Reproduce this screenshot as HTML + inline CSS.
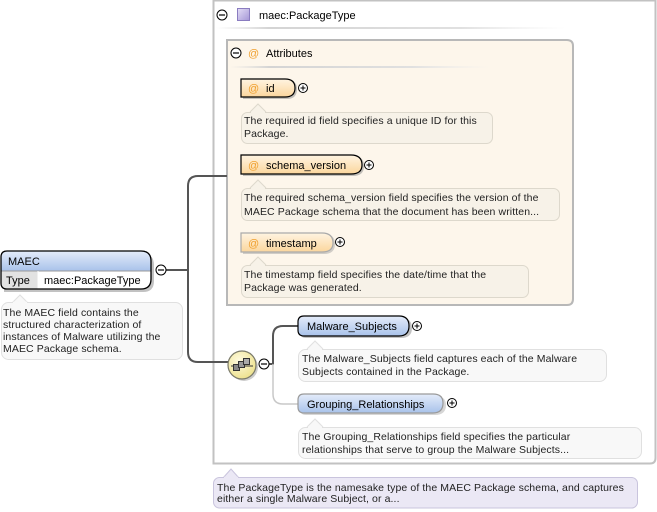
<!DOCTYPE html>
<html><head><meta charset="utf-8"><style>
html,body{margin:0;padding:0;background:#fff;}
svg{display:block;font-family:"Liberation Sans",Arial,sans-serif;}
.d{font-size:10.5px;fill:#222;letter-spacing:0.1px;}
.l{font-size:11px;fill:#000;}
</style></head><body>
<svg width="657" height="512" viewBox="0 0 657 512" xmlns="http://www.w3.org/2000/svg">
<defs>
<linearGradient id="blue" x1="0" y1="0" x2="0" y2="1"><stop offset="0" stop-color="#e4ecfa"/><stop offset="1" stop-color="#a8c2ea"/></linearGradient>
<linearGradient id="orange" x1="0" y1="0" x2="0" y2="1"><stop offset="0" stop-color="#fff4e2"/><stop offset="1" stop-color="#fbd69c"/></linearGradient>
<linearGradient id="purp" x1="0" y1="0" x2="1" y2="1"><stop offset="0" stop-color="#e4def6"/><stop offset="1" stop-color="#a496d6"/></linearGradient>
<radialGradient id="yel" cx="0.4" cy="0.35" r="0.7"><stop offset="0" stop-color="#fffbe0"/><stop offset="1" stop-color="#ece08a"/></radialGradient>
<linearGradient id="sep" x1="0" y1="0" x2="1" y2="0"><stop offset="0" stop-color="#ddd" stop-opacity="0"/><stop offset="0.15" stop-color="#d4d4d4"/><stop offset="0.7" stop-color="#e0e0e0"/><stop offset="1" stop-color="#eee" stop-opacity="0"/></linearGradient>
</defs>

<!-- outer PackageType box -->
<path d="M213.5 0.5 H655.5 V458 Q655.5 463.5 650 463.5 H213.5 Z" fill="#fff" stroke="#c2c2c2" stroke-width="2"/>
<circle cx="222" cy="15" r="5" fill="#fff" stroke="#000" stroke-width="1"/>
<line x1="219" y1="15" x2="225" y2="15" stroke="#000" stroke-width="1.2"/>
<rect x="237.5" y="8.5" width="12" height="12" fill="url(#purp)" stroke="#8a7cc0"/>
<text x="259" y="19" class="l">maec:PackageType</text>
<rect x="216" y="27" width="350" height="2" fill="url(#sep)"/>

<!-- Attributes box -->
<path d="M227 40 H567 Q573 40 573 46 V299 Q573 305 567 305 H227 Z" fill="#fdf6eb" stroke="#b8b8b8" stroke-width="2"/>
<circle cx="236" cy="53" r="5" fill="#fff" stroke="#000" stroke-width="1"/>
<line x1="233" y1="53" x2="239" y2="53" stroke="#000" stroke-width="1.2"/>
<text x="248" y="57" class="l" style="fill:#f0a030">@</text>
<text x="266" y="57" class="l">Attributes</text>
<rect x="230" y="66" width="260" height="2" fill="url(#sep)"/>

<!-- id -->
<path d="M243 80 H287 Q297 80 297 89 Q297 99 287 99 H243 Z" fill="#888" opacity="0.5"/>
<path d="M241 79 H285 Q295 79 295 88 Q295 97 285 97 H241 Z" fill="url(#orange)" stroke="#000" stroke-width="1.2"/>
<text x="248" y="92" class="l" style="fill:#f0a030">@</text>
<text x="266" y="92" class="l">id</text>
<circle cx="303" cy="88" r="4.5" fill="#fff" stroke="#000"/>
<path d="M300.5 88 H305.5 M303 85.5 V90.5" stroke="#000"/>
<path d="M250 112 L258 104 L266 112" fill="#f7f2e8" stroke="#ddd8cc"/>
<rect x="241.5" y="112.5" width="251" height="31" rx="6" fill="#f7f2e8" stroke="#ddd8cc"/>
<line x1="251" y1="112.5" x2="265" y2="112.5" stroke="#f7f2e8" stroke-width="1.5"/>
<text x="244" y="124" class="d">The required id field specifies a unique ID for this</text>
<text x="244" y="137" class="d">Package.</text>

<!-- schema_version -->
<path d="M243 156 H353 Q364 156 364 166 Q364 176 353 176 H243 Z" fill="#888" opacity="0.5"/>
<path d="M241 155 H351 Q362 155 362 165 Q362 174 351 174 H241 Z" fill="url(#orange)" stroke="#000" stroke-width="1.2"/>
<text x="248" y="169" class="l" style="fill:#f0a030">@</text>
<text x="266" y="169" class="l">schema_version</text>
<circle cx="369" cy="165" r="4.5" fill="#fff" stroke="#000"/>
<path d="M366.5 165 H371.5 M369 162.5 V167.5" stroke="#000"/>
<path d="M250 188 L258 180 L266 188" fill="#f7f2e8" stroke="#ddd8cc"/>
<rect x="241.5" y="188.5" width="318" height="32" rx="6" fill="#f7f2e8" stroke="#ddd8cc"/>
<line x1="251" y1="188.5" x2="265" y2="188.5" stroke="#f7f2e8" stroke-width="1.5"/>
<text x="244" y="201" class="d">The required schema_version field specifies the version of the</text>
<text x="244" y="215" class="d">MAEC Package schema that the document has been written...</text>

<!-- timestamp -->
<path d="M243 234 H324 Q335 234 335 244 Q335 254 324 254 H243 Z" fill="#999" opacity="0.45"/>
<path d="M241 233 H322 Q333 233 333 243 Q333 252 322 252 H241 Z" fill="url(#orange)" stroke="#aaa" stroke-width="1.2"/>
<text x="248" y="247" class="l" style="fill:#f0a030">@</text>
<text x="266" y="247" class="l">timestamp</text>
<circle cx="340" cy="242" r="4.5" fill="#fff" stroke="#000"/>
<path d="M337.5 242 H342.5 M340 239.5 V244.5" stroke="#000"/>
<path d="M250 265 L258 257 L266 265" fill="#f7f2e8" stroke="#ddd8cc"/>
<rect x="241.5" y="265.5" width="287" height="32" rx="6" fill="#f7f2e8" stroke="#ddd8cc"/>
<line x1="251" y1="265.5" x2="265" y2="265.5" stroke="#f7f2e8" stroke-width="1.5"/>
<text x="244" y="278" class="d">The timestamp field specifies the date/time that the</text>
<text x="244" y="291" class="d">Package was generated.</text>

<!-- connectors -->
<path d="M166 270 H188" stroke="#555" stroke-width="2" fill="none"/>
<path d="M227 176 H198 Q188 176 188 186 V352 Q188 362 198 362 H229" stroke="#555" stroke-width="2" fill="none"/>
<path d="M269 364 H273 V336 Q273 326 283 326 H298" stroke="#555" stroke-width="2" fill="none"/>
<path d="M273 364 V394 Q273 404 283 404 H298" stroke="#c8c8c8" stroke-width="1.5" fill="none"/>

<!-- MAEC box -->
<path d="M4 254 H143 Q154 254 154 265 V281 Q154 292 143 292 H4 Z" fill="#777" opacity="0.45"/>
<path d="M7 251 H141 Q151 251 151 261 V279 Q151 289 141 289 H7 Q1 289 1 283 V257 Q1 251 7 251 Z" fill="#fff"/>
<path d="M7 251 H141 Q151 251 151 261 V271 H1 V257 Q1 251 7 251 Z" fill="url(#blue)"/>
<path d="M1 271 H38 V289 H7 Q1 289 1 283 Z" fill="#e2e2e2"/>
<line x1="1" y1="271" x2="151" y2="271" stroke="#999" stroke-width="1"/>
<line x1="38" y1="271" x2="38" y2="289" stroke="#fff" stroke-width="1"/>
<path d="M7 251 H141 Q151 251 151 261 V279 Q151 289 141 289 H7 Q1 289 1 283 V257 Q1 251 7 251 Z" fill="none" stroke="#000" stroke-width="1.3"/>
<text x="8" y="265" class="l">MAEC</text>
<text x="6" y="284" class="l">Type</text>
<text x="44" y="284" class="l">maec:PackageType</text>
<circle cx="161" cy="270" r="5" fill="#fff" stroke="#000"/>
<line x1="158" y1="270" x2="164" y2="270" stroke="#000" stroke-width="1.2"/>

<!-- MAEC desc -->
<path d="M12 303 L20 295 L28 303" fill="#f8f8f8" stroke="#e0e0e0"/>
<rect x="1.5" y="302.5" width="181" height="57" rx="7" fill="#f8f8f8" stroke="#e0e0e0"/>
<line x1="13" y1="302.5" x2="27" y2="302.5" stroke="#f8f8f8" stroke-width="1.5"/>
<text x="3" y="316" class="d">The MAEC field contains the</text>
<text x="3" y="328" class="d">structured characterization of</text>
<text x="3" y="340" class="d">instances of Malware utilizing the</text>
<text x="3" y="352" class="d">MAEC Package schema.</text>

<!-- sequence compositor -->
<circle cx="244" cy="367" r="14" fill="#999" opacity="0.5"/>
<circle cx="242" cy="365" r="14" fill="url(#yel)" stroke="#7a7a6a" stroke-width="1.2"/>
<line x1="231" y1="366" x2="253" y2="366" stroke="#333" stroke-width="1"/>
<rect x="233.5" y="364.5" width="6" height="6" fill="#888" stroke="#333"/>
<rect x="238.5" y="361.5" width="6" height="6" fill="#999" stroke="#333"/>
<rect x="243.5" y="358.5" width="6" height="6" fill="#aaa" stroke="#333"/>
<circle cx="264" cy="364" r="5" fill="#fff" stroke="#000"/>
<line x1="261" y1="364" x2="267" y2="364" stroke="#000" stroke-width="1.2"/>

<!-- Malware_Subjects -->
<path d="M301 318 H401 Q412 318 412 328 Q412 338 401 338 H306 Q300 338 300 332 Z" fill="#777" opacity="0.45"/>
<path d="M304 316 H399 Q409 316 409 326 Q409 336 399 336 H304 Q298 336 298 330 V322 Q298 316 304 316 Z" fill="url(#blue)" stroke="#000" stroke-width="1.2"/>
<text x="307" y="330" class="l">Malware_Subjects</text>
<circle cx="417" cy="326" r="4.5" fill="#fff" stroke="#000"/>
<path d="M414.5 326 H419.5 M417 323.5 V328.5" stroke="#000"/>
<path d="M307 349 L315 341 L323 349" fill="#f8f8f8" stroke="#e0e0e0"/>
<rect x="298.5" y="349.5" width="308" height="32" rx="7" fill="#f8f8f8" stroke="#e0e0e0"/>
<line x1="308" y1="349.5" x2="322" y2="349.5" stroke="#f8f8f8" stroke-width="1.5"/>
<text x="302" y="362" class="d">The Malware_Subjects field captures each of the Malware</text>
<text x="302" y="375" class="d">Subjects contained in the Package.</text>

<!-- Grouping_Relationships -->
<path d="M301 396 H435 Q446 396 446 405 Q446 415 435 415 H306 Q300 415 300 409 Z" fill="#999" opacity="0.4"/>
<path d="M304 394 H433 Q443 394 443 403 Q443 413 433 413 H304 Q298 413 298 407 V400 Q298 394 304 394 Z" fill="url(#blue)" stroke="#9a9a9a" stroke-width="1.2"/>
<text x="307" y="408" class="l">Grouping_Relationships</text>
<circle cx="452" cy="403" r="4.5" fill="#fff" stroke="#000"/>
<path d="M449.5 403 H454.5 M452 400.5 V405.5" stroke="#000"/>
<path d="M307 427 L315 419 L323 427" fill="#f8f8f8" stroke="#e0e0e0"/>
<rect x="298.5" y="427.5" width="343" height="31" rx="7" fill="#f8f8f8" stroke="#e0e0e0"/>
<line x1="308" y1="427.5" x2="322" y2="427.5" stroke="#f8f8f8" stroke-width="1.5"/>
<text x="302" y="440" class="d">The Grouping_Relationships field specifies the particular</text>
<text x="302" y="453" class="d">relationships that serve to group the Malware Subjects...</text>

<!-- bottom desc -->
<path d="M223 478 L231 469 L239 478" fill="#ebe8f5" stroke="#c9c4dd"/>
<rect x="213.5" y="477.5" width="424" height="30.5" rx="6" fill="#ebe8f5" stroke="#c9c4dd"/>
<line x1="224" y1="477.5" x2="238" y2="477.5" stroke="#ebe8f5" stroke-width="1.5"/>
<text x="217" y="491" class="d">The PackageType is the namesake type of the MAEC Package schema, and captures</text>
<text x="217" y="502" class="d">either a single Malware Subject, or a...</text>
</svg>
</body></html>
